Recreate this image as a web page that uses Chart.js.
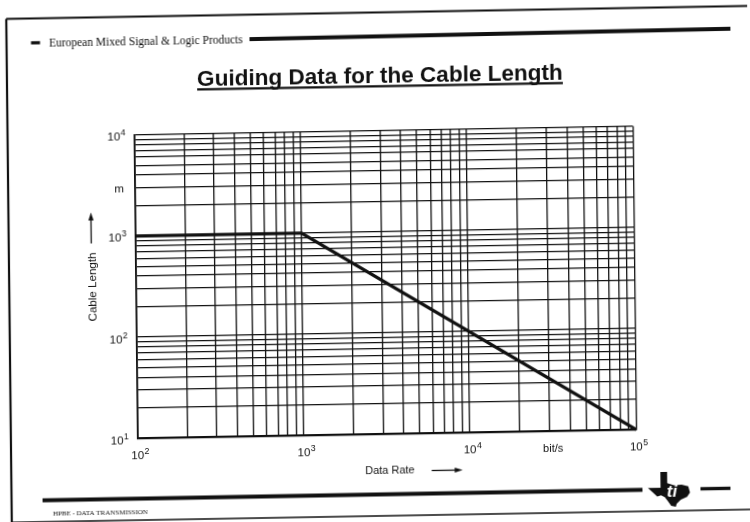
<!DOCTYPE html>
<html>
<head>
<meta charset="utf-8">
<script src="https://cdn.jsdelivr.net/npm/chart.js@4/dist/chart.umd.min.js"></script>
<style>
  html, body { margin: 0; padding: 0; background: #fff; width: 750px; height: 522px; overflow: hidden; }
  /* the printed sheet sits slightly askew */
  #sheet { display: block; transform-origin: 375px 261px; transform: matrix(1, -0.0175, 0.011, 1, 0, 0); }
</style>
</head>
<body>
<canvas id="sheet" width="750" height="522"></canvas>
<script>
// Recommended maximum cable length versus data rate
const dataRate    = [100, 1000, 100000];   // bit/s
const cableLength = [1000, 1000, 10];      // m

// decade exponents shown on each axis
const xDecades = [2, 3, 4, 5];   // 10^2 ... 10^5 bit/s
const yDecades = [1, 2, 3, 4];   // 10^1 ... 10^4 m
// mantissas of the log-paper rulings inside every decade
const gridSteps = [1, 2, 3, 4, 5, 6, 7, 8, 9];

const xUnitLabel = 'bit/s';
const xUnitAt = Math.pow(10, 4.5);
const yUnitLabel = 'm';
const yUnitAt = 2900;

const SANS = '"Liberation Sans", Arial, sans-serif';
const SERIF = '"Liberation Serif", "Times New Roman", serif';

function logRulings(decades) {
  const values = [];
  decades.forEach((d, i) => {
    if (i < decades.length - 1) gridSteps.forEach(s => values.push(s * Math.pow(10, d)));
    else values.push(Math.pow(10, d));
  });
  return values;
}

function setTicks(decades) {
  return scale => {
    scale.ticks = logRulings(decades).map(v => ({ value: v }));
  };
}

// "10" with a raised exponent; (cx, midY) is the centre of the "10"
function drawPower(ctx, exp, cx, midY, anchor) {
  const big = 11.5, small = 8.8;
  ctx.font = big + 'px ' + SANS;
  const wBase = ctx.measureText('10').width;
  ctx.font = small + 'px ' + SANS;
  const wExp = ctx.measureText(String(exp)).width;
  let left;
  if (anchor === 'right') left = cx - wBase - wExp - 0.5;
  else left = cx - wBase / 2;
  const base = midY + 0.358 * big;
  ctx.textAlign = 'left';
  ctx.textBaseline = 'alphabetic';
  ctx.font = big + 'px ' + SANS;
  ctx.fillText('10', left, base);
  ctx.font = small + 'px ' + SANS;
  ctx.fillText(String(exp), left + wBase + 0.5, base - 5);
}

function arrow(ctx, x1, y1, x2, y2) {
  const ang = Math.atan2(y2 - y1, x2 - x1);
  const len = 8, half = 2.6;
  ctx.lineWidth = 1.3;
  ctx.beginPath();
  ctx.moveTo(x1, y1);
  ctx.lineTo(x2 - Math.cos(ang) * (len - 1), y2 - Math.sin(ang) * (len - 1));
  ctx.stroke();
  ctx.beginPath();
  ctx.moveTo(x2, y2);
  ctx.lineTo(x2 - Math.cos(ang) * len + Math.sin(ang) * half, y2 - Math.sin(ang) * len - Math.cos(ang) * half);
  ctx.lineTo(x2 - Math.cos(ang) * len - Math.sin(ang) * half, y2 - Math.sin(ang) * len + Math.cos(ang) * half);
  ctx.closePath();
  ctx.fill();
}

function fitFont(ctx, text, family, weight, width) {
  ctx.font = weight + ' 100px ' + family;
  return 100 * width / ctx.measureText(text).width;
}

function drawLogo(ctx, cx, cy, w, h) {
  // outline of the state of Texas, in unit coordinates
  const pts = [[0.30,0.00],[0.46,0.00],[0.46,0.32],[0.62,0.38],[0.80,0.37],[0.96,0.42],[1.00,0.60],
               [0.93,0.72],[0.78,0.80],[0.68,0.91],[0.66,1.00],[0.55,0.97],[0.48,0.85],[0.40,0.72],
               [0.31,0.66],[0.22,0.70],[0.12,0.58],[0.00,0.45],[0.30,0.45]];
  const x0 = cx - w / 2, y0 = cy - h / 2;
  ctx.save();
  ctx.fillStyle = '#111';
  ctx.beginPath();
  pts.forEach((p, i) => {
    const px = x0 + p[0] * w, py = y0 + p[1] * h;
    if (i === 0) ctx.moveTo(px, py); else ctx.lineTo(px, py);
  });
  ctx.closePath();
  ctx.fill();
  ctx.fillStyle = '#fff';
  ctx.font = 'italic bold 17px ' + SANS;
  ctx.textAlign = 'center';
  ctx.textBaseline = 'alphabetic';
  ctx.fillText('ti', cx + 3, cy + 7);
  ctx.restore();
}

const sheetDecor = {
  id: 'sheetDecor',
  beforeDraw(chart) {
    const ctx = chart.ctx;
    ctx.save();
    ctx.fillStyle = '#fff';
    ctx.fillRect(0, 0, chart.width, chart.height);
    ctx.restore();
  },
  afterDraw(chart) {
    const ctx = chart.ctx;
    const xs = chart.scales.x, ys = chart.scales.y;
    ctx.save();
    ctx.fillStyle = '#111';
    ctx.strokeStyle = '#111';

    // page frame
    ctx.lineWidth = 2.2;
    ctx.beginPath();
    ctx.moveTo(9, 12.5); ctx.lineTo(750, 12.5);
    ctx.moveTo(9, 12.5); ctx.lineTo(9, 522);
    ctx.stroke();
    ctx.lineWidth = 1.5;
    ctx.beginPath();
    ctx.moveTo(9, 516); ctx.lineTo(750, 516);
    ctx.stroke();

    // header
    ctx.fillRect(33.5, 35.3, 9, 3.2);
    const hdr = 'European Mixed Signal & Logic Products';
    const hSize = fitFont(ctx, hdr, SERIF, 'normal', 194);
    ctx.font = hSize + 'px ' + SERIF;
    ctx.textAlign = 'left';
    ctx.textBaseline = 'alphabetic';
    ctx.fillText(hdr, 51.4, 41);
    ctx.lineWidth = 4;
    ctx.beginPath();
    ctx.moveTo(252, 37); ctx.lineTo(733, 35);
    ctx.stroke();

    // title
    const title = 'Guiding Data for the Cable Length';
    const tSize = fitFont(ctx, title, SANS, 'bold', 366);
    ctx.font = 'bold ' + tSize + 'px ' + SANS;
    ctx.textAlign = 'center';
    ctx.fillText(title, 382, 83);
    const tw = ctx.measureText(title).width;
    ctx.lineWidth = 2.2;
    ctx.beginPath();
    ctx.moveTo(382 - tw / 2, 86.3); ctx.lineTo(382 + tw / 2, 86.3);
    ctx.stroke();

    // y axis decade labels
    yDecades.forEach(d => {
      drawPower(ctx, d, 127, ys.getPixelForValue(Math.pow(10, d)) + 1.5, 'right');
    });
    ctx.font = '11.5px ' + SANS;
    ctx.textAlign = 'center';
    ctx.fillText(yUnitLabel, 120, ys.getPixelForValue(yUnitAt) + 0.26 * 11.5);

    // x axis decade labels
    xDecades.forEach(d => {
      drawPower(ctx, d, xs.getPixelForValue(Math.pow(10, d)), 450.5, 'center');
    });
    ctx.font = '11px ' + SANS;
    ctx.textAlign = 'center';
    ctx.fillText(xUnitLabel, xs.getPixelForValue(xUnitAt), 451 + 0.36 * 11);

    // axis titles with direction arrows
    ctx.font = '11px ' + SANS;
    ctx.textAlign = 'center';
    ctx.fillText('Data Rate', 387.7, 469.6 + 0.358 * 11);
    arrow(ctx, 429.5, 471.5, 460.5, 471.5);

    ctx.save();
    ctx.translate(95.8, 282);
    ctx.rotate(-Math.PI / 2);
    ctx.font = '11.6px ' + SANS;
    ctx.textAlign = 'center';
    ctx.fillText('Cable Length', 0, 0);
    ctx.restore();
    arrow(ctx, 91.5, 238.5, 91.5, 207.5);

    // footer
    ctx.lineWidth = 4;
    ctx.beginPath();
    ctx.moveTo(40, 494.5); ctx.lineTo(640, 494.5);
    ctx.stroke();
    ctx.lineWidth = 3.4;
    ctx.beginPath();
    ctx.moveTo(698, 494.5); ctx.lineTo(728, 494.5);
    ctx.stroke();
    drawLogo(ctx, 666.5, 494.6, 42, 35);
    const ftr = 'HPBE - DATA TRANSMISSION';
    const fSize = fitFont(ctx, ftr, SERIF, 'normal', 95);
    ctx.font = fSize + 'px ' + SERIF;
    ctx.textAlign = 'left';
    ctx.fillText(ftr, 50.2, 509.5);

    ctx.restore();
  }
};

new Chart(document.getElementById('sheet'), {
  type: 'line',
  data: {
    datasets: [{
      data: dataRate.map((r, i) => ({ x: r, y: cableLength[i] })),
      borderColor: '#111',
      borderWidth: 3.3,
      pointRadius: 0,
      tension: 0,
      fill: false,
      clip: 4,
      borderJoinStyle: 'miter'
    }]
  },
  options: {
    responsive: false,
    animation: false,
    devicePixelRatio: 1,
    layout: { padding: { left: 135.7, right: 115.7, top: 130.7, bottom: 87.8 } },
    plugins: { legend: { display: false }, tooltip: { enabled: false }, title: { display: false } },
    scales: {
      x: {
        type: 'logarithmic',
        position: 'bottom',
        min: Math.pow(10, xDecades[0]),
        max: Math.pow(10, xDecades[xDecades.length - 1]),
        afterBuildTicks: setTicks(xDecades),
        afterFit: s => { s.height = 0; },
        ticks: { display: false },
        grid: { color: '#111', lineWidth: 1.3, drawTicks: false },
        border: { display: true, color: '#111', width: 1.8 }
      },
      y: {
        type: 'logarithmic',
        position: 'left',
        min: Math.pow(10, yDecades[0]),
        max: Math.pow(10, yDecades[yDecades.length - 1]),
        afterBuildTicks: setTicks(yDecades),
        afterFit: s => { s.width = 0; },
        ticks: { display: false },
        grid: { color: '#111', lineWidth: 1.3, drawTicks: false },
        border: { display: true, color: '#111', width: 1.8 }
      }
    }
  },
  plugins: [sheetDecor]
});
</script>
</body>
</html>
